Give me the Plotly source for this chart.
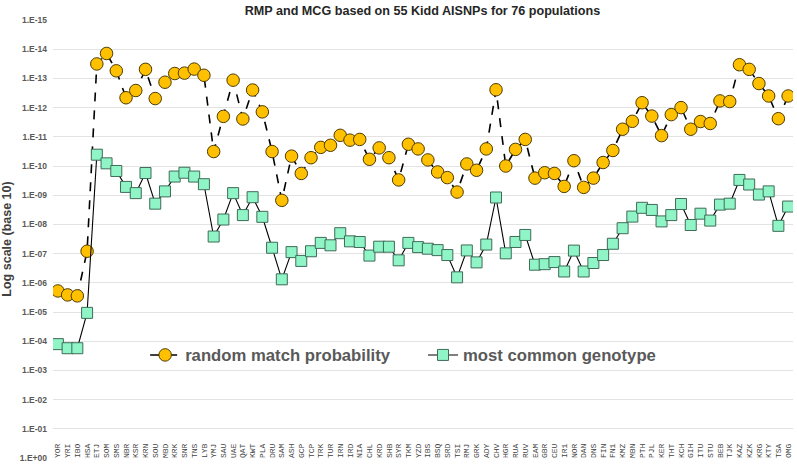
import plotly.graph_objects as go

populations = ["YOR","YRI","IBO","HSA","ETJ","SOM","SMS","NBR","KSR","KRN","SOU","MBD","KRK","SNR","TNS","LYB",
               "YMJ","SAU","UAE","QAT","KWT","PLA","DRU","SAM","ASH","GCP","TCP","TRK","TUR","IRN","IRD","NIA",
               "CHL","KRD","SHB","SYR","TKM","YZD","IBS","BSQ","SRD","TSI","RMJ","GRK","ADY","CHV","HGR","RUA",
               "RUV","EAM","GBR","CEU","IR1","NOR","DAN","DNS","FIN","FN1","KMZ","MBN","PTH","PJL","KER","THT",
               "KCH","GIH","ITU","STU","BEB","TJK","KAZ","KZK","KRG","KTY","TSA","OMG"]

rmp = [1.9e-6, 2.6e-6, 2.8e-6, 8.3e-8, 3.2e-14, 1.4e-14, 5.5e-14, 4.6e-13, 2.6e-13, 4.9e-14, 4.9e-13, 1.35e-13,
       6.8e-14, 6.6e-14, 4.8e-14, 7.8e-14, 3.2e-11, 2.0e-12, 1.15e-13, 2.45e-12, 2.5e-13, 1.4e-12, 3.2e-11, 1.5e-9,
       4.6e-11, 1.8e-10, 5.2e-11, 2.3e-11, 1.95e-11, 8.9e-12, 1.3e-11, 1.23e-11, 5.9e-11, 2.4e-11, 5.2e-11, 3.0e-10,
       1.8e-11, 2.6e-11, 6.2e-11, 1.6e-10, 2.5e-10, 7.8e-10, 8.5e-11, 1.4e-10, 2.6e-11, 2.45e-13, 1.0e-10, 2.7e-11,
       1.23e-11, 2.6e-10, 1.7e-10, 1.8e-10, 5.0e-10, 6.6e-11, 5.4e-10, 2.6e-10, 7.6e-11, 2.95e-11, 5.5e-12, 2.95e-12,
       6.8e-13, 1.95e-12, 9.1e-12, 1.74e-12, 1.0e-12, 5.5e-12, 3.0e-12, 3.5e-12, 5.9e-13, 6.2e-13, 3.4e-14, 4.9e-14,
       1.5e-13, 4.0e-13, 2.4e-12, 4.0e-13]

mcg = [1.26e-4, 1.74e-4, 1.74e-4, 1.07e-5, 4.1e-11, 8.1e-11, 1.48e-10, 5.2e-10, 8.5e-10, 1.74e-10, 1.95e-9, 7.4e-10,
       2.3e-10, 1.7e-10, 2.3e-10, 4.2e-10, 2.6e-8, 6.8e-9, 8.5e-10, 4.8e-9, 1.17e-9, 5.5e-9, 6.3e-8, 7.6e-7,
       8.9e-8, 1.78e-7, 8.3e-8, 4.3e-8, 5.2e-8, 2.0e-8, 3.8e-8, 4.0e-8, 1.17e-7, 5.8e-8, 5.8e-8, 1.7e-7,
       4.3e-8, 6.0e-8, 6.8e-8, 7.6e-8, 1.12e-7, 6.5e-7, 7.8e-8, 2.0e-7, 4.9e-8, 1.2e-9, 9.8e-8, 4.0e-8,
       2.3e-8, 2.4e-7, 2.3e-7, 1.95e-7, 4.1e-7, 7.9e-8, 4.1e-7, 2.1e-7, 1.12e-7, 4.6e-8, 1.35e-8, 5.4e-9,
       2.7e-9, 3.2e-9, 7.9e-9, 4.8e-9, 2.0e-9, 1.05e-8, 4.3e-9, 7.4e-9, 2.1e-9, 1.95e-9, 3.0e-10, 4.3e-10,
       9.5e-10, 7.4e-10, 1.12e-8, 2.45e-9]

y_tickvals = [1e-15, 1e-14, 1e-13, 1e-12, 1e-11, 1e-10, 1e-9, 1e-8, 1e-7, 1e-6, 1e-5, 1e-4, 1e-3, 1e-2, 1e-1, 1]
y_ticktext = ["1.E-15", "1.E-14", "1.E-13", "1.E-12", "1.E-11", "1.E-10", "1.E-09", "1.E-08", "1.E-07",
              "1.E-06", "1.E-05", "1.E-04", "1.E-03", "1.E-02", "1.E-01", "1.E+00"]

legend_font = dict(size=16.7, color="#595959", family="Liberation Sans, Arial", weight="bold")

fig = go.Figure()
fig.add_trace(go.Scatter(
    x=populations, y=rmp, name="random match probability", mode="lines+markers",
    line=dict(color="black", width=1.6, dash="dash"),
    marker=dict(symbol="circle", size=12.5, color="#FFC000", line=dict(color="#4d3b00", width=1)),
    legend="legend"))
fig.add_trace(go.Scatter(
    x=populations, y=mcg, name="most common genotype", mode="lines+markers",
    line=dict(color="black", width=1.1),
    marker=dict(symbol="square", size=11, color="#8FF5C6", line=dict(color="#3f6b58", width=1)),
    legend="legend2"))

fig.update_layout(
    width=797, height=467,
    margin=dict(l=53, r=4, t=20, b=9, autoexpand=False),
    paper_bgcolor="white", plot_bgcolor="white",
    title=dict(text="<b>RMP and MCG based on 55 Kidd AISNPs for 76 populations</b>",
               x=0.53, xanchor="center", y=0.978, yanchor="middle",
               font=dict(family="Liberation Sans, Arial", size=12.6, color="#262626")),
    font=dict(family="Liberation Sans, Arial", color="#595959"),
    showlegend=True,
    legend=dict(x=0.1245, y=0.235, xanchor="left", yanchor="middle", font=legend_font,
                bgcolor="rgba(0,0,0,0)", itemwidth=30),
    legend2=dict(x=0.5, y=0.235, xanchor="left", yanchor="middle", font=legend_font,
                 bgcolor="rgba(0,0,0,0)", itemwidth=30),
)
fig.update_xaxes(
    type="category", range=[-0.5, 75.5], showgrid=False, showline=False, ticks="",
    tickmode="array", tickvals=populations, ticktext=populations,
    anchor="free", position=0.0, side="top",
    tickangle=-90, automargin=False,
    tickfont=dict(family="Liberation Mono, Courier New", size=8, color="#404040"),
)
fig.update_yaxes(
    type="log", range=[0, -15], tickvals=y_tickvals, ticktext=y_ticktext, automargin=False,
    showgrid=True, gridcolor="#e3e3e3", gridwidth=1, zeroline=False, showline=False, ticks="",
    ticklabelstandoff=5,
    tickfont=dict(size=8.5, color="#595959", family="Liberation Sans, Arial", weight="bold"),
    title=dict(text="<b>Log scale (base 10)</b>", font=dict(size=12.5, color="#404040"), standoff=8),
)
fig.write_html("out.html", config={"displayModeBar": False},
               post_script="document.body.style.margin='0px';")
